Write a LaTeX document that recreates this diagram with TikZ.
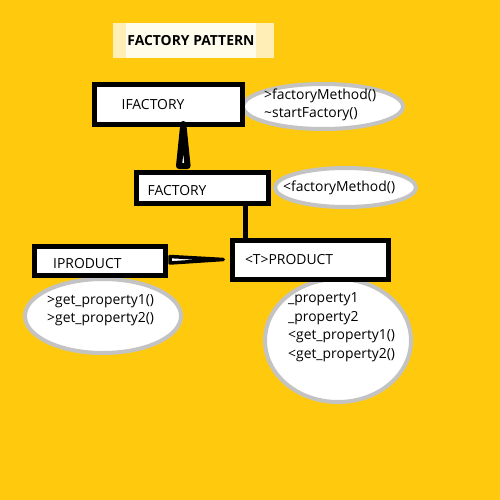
\documentclass[tikz,border=0pt]{standalone}
\usepackage{fontspec}
\setmainfont{Open Sans}
\usetikzlibrary{shapes.geometric,calc}
\usepackage{xcolor}
\definecolor{gold}{RGB}{255,201,14}
\definecolor{titlepale}{RGB}{255,239,182}
\definecolor{titlecream}{RGB}{255,252,236}
\definecolor{ovalgray}{RGB}{195,195,195}
\newcommand{\diafont}{\fontsize{13.9}{18.5}\selectfont}

\begin{document}
\begin{tikzpicture}[
    x=1pt, y=-1pt,
    box/.style={draw, rectangle, line width=5pt, fill=white, align=left, inner ysep=0pt, font=\diafont},
    oval/.style={ellipse, draw=ovalgray, line width=4pt, fill=white, inner sep=0pt},
    txt/.style={anchor=west, align=left, inner sep=0pt, font=\diafont},
    spike/.style={draw, fill=white, line join=round}
]
  \useasboundingbox (0,0) rectangle (500,500);
  \fill[gold] (0,0) rectangle (500,500);

  % Title
  \fill[titlepale] (113,23) rectangle (274,58);
  \node (title) [fill=titlecream, minimum width=130pt, minimum height=35pt, inner sep=0pt, font=\diafont\bfseries] at (191,40.5) {FACTORY PATTERN};

  % Ovals
  \node (ifm) [oval, minimum width=160pt, minimum height=45pt] at (323,106.5) {};
  \node (fm) [oval, minimum width=141pt, minimum height=39pt] at (345.5,187.5) {};
  \node (ipm) [oval, minimum width=156pt, minimum height=74pt] at (103,316) {};
  \node (pm) [oval, minimum width=146pt, minimum height=123pt] at (338,340.5) {};

  % Oval texts
  \node (ifmtxt) [txt] at (264,105) {>factoryMethod()\\\textasciitilde startFactory()};
  \node (fmtxt) [txt] at (283,187.5) {<factoryMethod()};
  \node (ipmtxt) [txt] at (47,310) {>get\_property1()\\>get\_property2()};
  \node (pmtxt) [txt] at (288,327) {\_property1\\\_property2\\<get\_property1()\\<get\_property2()};

  % Boxes
  \node (ifac) [box, minimum height=40pt, text width=93.6pt, inner xsep=27.2pt] at (168.5,104.5) {IFACTORY};
  \node (fac) [box, minimum height=31pt, text width=109.6pt, inner xsep=11.2pt, text height=15pt, text depth=0pt] at (202.5,188) {FACTORY};
  \node (prod) [box, minimum height=38.4pt, text width=131pt, inner xsep=12.5pt] at (310.5,260) {<T>PRODUCT};
  \node (ipro) [box, minimum height=29.3pt, text width=93pt, inner xsep=19pt, text height=15pt, text depth=0pt] at (99.7,261.2) {IPRODUCT};

  % Connectors
  \coordinate (link) at (245.8,0);
  \draw [line width=5pt] (link |- fac.south) -- (link |- prod.north);
  \coordinate (itip) at ($(ifac.south)+(14.8,-3)$);
  \draw [spike, line width=6pt] (itip) -- ($(fac.north)+(-23.5,-4)$) -- ($(fac.north)+(-14.9,-4)$) -- cycle;
  \coordinate (ptip) at ($(prod.west)+(-6.75,-0.5)$);
  \draw [spike, line width=3.5pt] (ptip) -- ($(ipro.east)+(2.3,-4.7)$) -- ($(ipro.east)+(2.3,1.8)$) -- cycle;
\end{tikzpicture}
\end{document}
